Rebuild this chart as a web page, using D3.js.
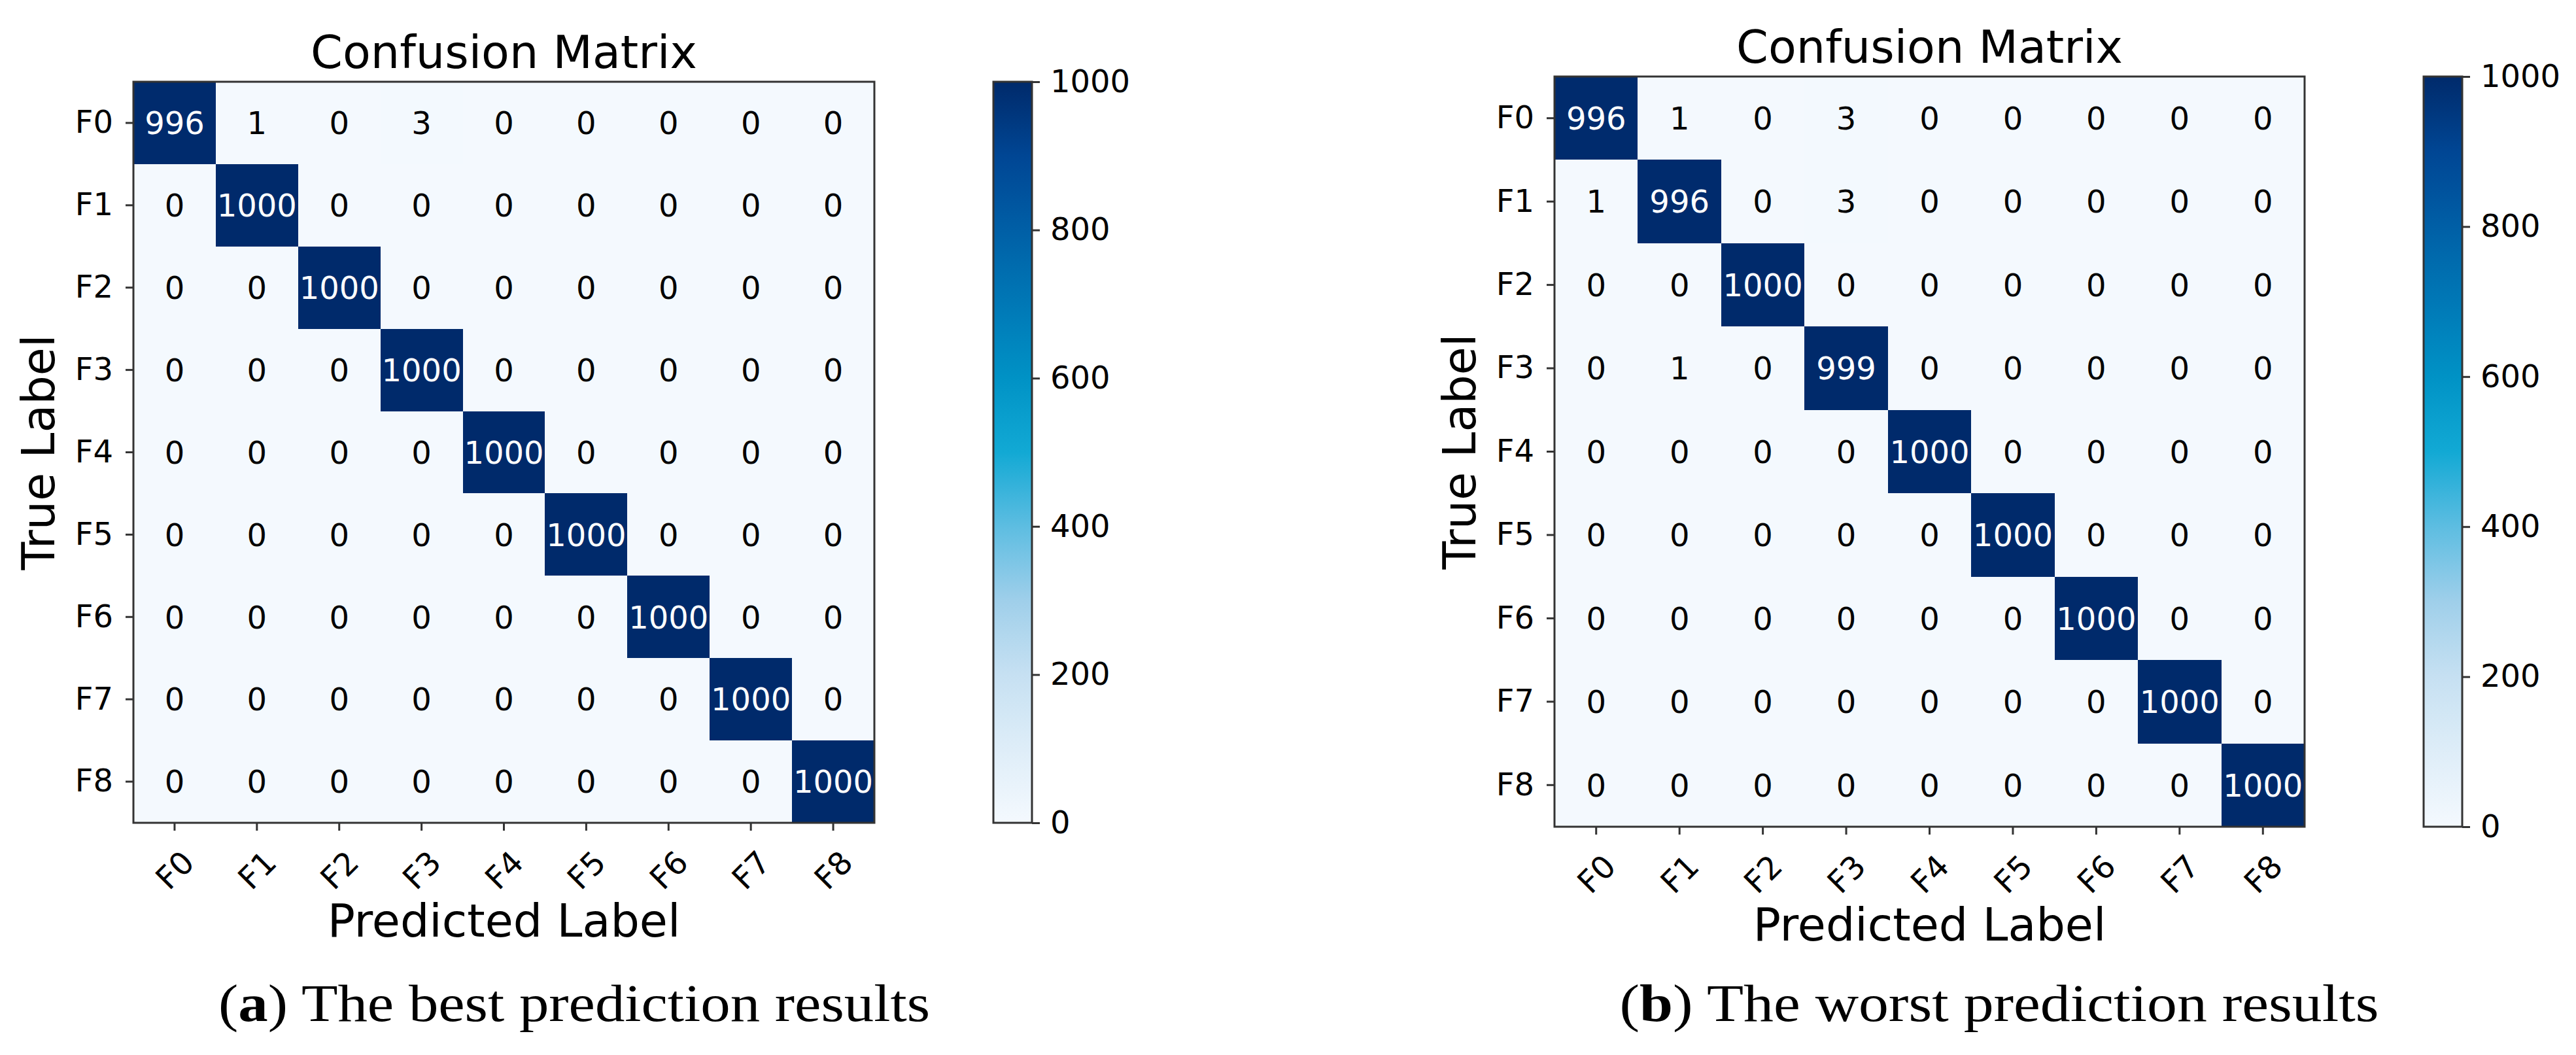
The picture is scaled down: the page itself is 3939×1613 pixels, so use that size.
<!DOCTYPE html>
<html>
<head>
<meta charset="utf-8">
<script src="https://cdn.jsdelivr.net/npm/d3@7"></script>
<style>
  body { margin: 0; background: #fff; }
  svg text { font-family: "DejaVu Sans", sans-serif; }
</style>
</head>
<body>
<div id="chart"></div>
<script>
// class names, shared by both matrices
const labels = ["F0", "F1", "F2", "F3", "F4", "F5", "F6", "F7", "F8"];

// rows = true label, columns = predicted label
const bestCounts = [
  [996, 1, 0, 3, 0, 0, 0, 0, 0],
  [0, 1000, 0, 0, 0, 0, 0, 0, 0],
  [0, 0, 1000, 0, 0, 0, 0, 0, 0],
  [0, 0, 0, 1000, 0, 0, 0, 0, 0],
  [0, 0, 0, 0, 1000, 0, 0, 0, 0],
  [0, 0, 0, 0, 0, 1000, 0, 0, 0],
  [0, 0, 0, 0, 0, 0, 1000, 0, 0],
  [0, 0, 0, 0, 0, 0, 0, 1000, 0],
  [0, 0, 0, 0, 0, 0, 0, 0, 1000]
];

const worstCounts = [
  [996, 1, 0, 3, 0, 0, 0, 0, 0],
  [1, 996, 0, 3, 0, 0, 0, 0, 0],
  [0, 0, 1000, 0, 0, 0, 0, 0, 0],
  [0, 1, 0, 999, 0, 0, 0, 0, 0],
  [0, 0, 0, 0, 1000, 0, 0, 0, 0],
  [0, 0, 0, 0, 0, 1000, 0, 0, 0],
  [0, 0, 0, 0, 0, 0, 1000, 0, 0],
  [0, 0, 0, 0, 0, 0, 0, 1000, 0],
  [0, 0, 0, 0, 0, 0, 0, 0, 1000]
];

const colorTicks = [0, 200, 400, 600, 800, 1000];
const panelTags = ["a", "b"];
const panelCaptions = [" The best prediction results", " The worst prediction results"];

// the picture's blues are a bit more saturated than plain Blues
const blueStops = [0, 100, 200, 300, 400, 500, 600, 700, 800, 900, 1000];
const blueColors = ["#f4f9fe", "#deedf8", "#c6e0f2", "#9fcfea", "#5dbde1", "#12a9d4",
  "#0092c5", "#0078b6", "#005fa6", "#004694", "#002a6b"];

var w = 3939,
  h = 1613;

var svg = d3.select("#chart")
  .append("svg")
  .attr("width", w)
  .attr("height", h);

var defs = svg.append("defs");

var color = d3.scaleLinear()
  .domain(blueStops)
  .range(blueColors)
  .interpolate(d3.interpolateRgb)
  .clamp(true);

// where each panel sits on the page
var layouts = [
  { left: 204, top: 125, size: 1133, capX: 878, capW: 1088 },
  { left: 2377, top: 117, size: 1147, capX: 3057, capW: 1161 }
];

var ink = "#333";

function styleAxis(ax) {
  ax.attr("font-family", "DejaVu Sans").attr("font-size", 48);
  ax.select(".domain").remove();
  ax.selectAll(".tick line").attr("stroke", ink).attr("stroke-width", 3);
  ax.selectAll(".tick text").attr("fill", "#000");
}

function drawPanel(counts, lay, i) {
  var g = svg.append("g");
  var bottom = lay.top + lay.size,
    right = lay.left + lay.size,
    midX = lay.left + lay.size / 2,
    midY = lay.top + lay.size / 2;

  var x = d3.scaleBand().domain(labels).range([lay.left, right]);
  var y = d3.scaleBand().domain(labels).range([lay.top, bottom]);

  var cells = counts.flatMap((row, r) => row.map((v, c) => ({
    truth: labels[r],
    pred: labels[c],
    v: v
  })));

  g.append("g")
    .selectAll("rect")
    .data(cells)
    .enter()
    .append("rect")
    .attr("x", d => x(d.pred))
    .attr("y", d => y(d.truth))
    .attr("width", x.bandwidth())
    .attr("height", y.bandwidth())
    .attr("fill", d => color(d.v))
    .attr("shape-rendering", "crispEdges");

  g.append("g")
    .selectAll("text")
    .data(cells)
    .enter()
    .append("text")
    .attr("x", d => x(d.pred) + x.bandwidth() / 2)
    .attr("y", d => y(d.truth) + y.bandwidth() / 2)
    .attr("dy", "0.36em")
    .attr("text-anchor", "middle")
    .attr("font-size", 48)
    .attr("fill", d => d.v > 500 ? "#fff" : "#000")
    .text(d => d.v);

  // frame
  g.append("rect")
    .attr("x", lay.left)
    .attr("y", lay.top)
    .attr("width", lay.size)
    .attr("height", lay.size)
    .attr("fill", "none")
    .attr("stroke", ink)
    .attr("stroke-width", 3);

  var yAx = g.append("g")
    .attr("transform", `translate(${lay.left},0)`)
    .call(d3.axisLeft(y).tickSize(12).tickPadding(19));
  styleAxis(yAx);

  var xAx = g.append("g")
    .attr("transform", `translate(0,${bottom})`)
    .call(d3.axisBottom(x).tickSize(12));
  styleAxis(xAx);
  xAx.selectAll(".tick text")
    .attr("y", 0)
    .attr("dy", "0.36em")
    .attr("text-anchor", "middle")
    .attr("transform", "translate(0,72) rotate(-45)");

  g.append("text")
    .attr("x", midX)
    .attr("y", lay.top - 21)
    .attr("text-anchor", "middle")
    .attr("font-size", 70)
    .text("Confusion Matrix");

  g.append("text")
    .attr("x", midX)
    .attr("y", bottom + 174)
    .attr("text-anchor", "middle")
    .attr("font-size", 70)
    .text("Predicted Label");

  g.append("text")
    .attr("transform", `translate(${lay.left - 121},${midY}) rotate(-90)`)
    .attr("text-anchor", "middle")
    .attr("font-size", 70)
    .text("True Label");

  // colorbar
  var cbX = right + 182,
    cbW = 59;
  var grad = defs.append("linearGradient")
    .attr("id", "blues" + i)
    .attr("x1", 0).attr("y1", 1)
    .attr("x2", 0).attr("y2", 0);
  grad.selectAll("stop")
    .data(d3.range(0, 1.0001, 0.05))
    .enter()
    .append("stop")
    .attr("offset", t => t)
    .attr("stop-color", t => color(t * 1000));

  g.append("rect")
    .attr("x", cbX)
    .attr("y", lay.top)
    .attr("width", cbW)
    .attr("height", lay.size)
    .attr("fill", `url(#blues${i})`)
    .attr("stroke", ink)
    .attr("stroke-width", 3);

  var cScale = d3.scaleLinear().domain([0, 1000]).range([bottom, lay.top]);
  var cAx = g.append("g")
    .attr("transform", `translate(${cbX + cbW},0)`)
    .call(d3.axisRight(cScale)
      .tickValues(colorTicks)
      .tickFormat(d3.format("d"))
      .tickSize(12)
      .tickPadding(16));
  styleAxis(cAx);

  // caption under the panel
  var cap = g.append("text")
    .attr("x", lay.capX)
    .attr("y", 1561)
    .attr("text-anchor", "middle")
    .attr("font-size", 80)
    .attr("textLength", lay.capW)
    .attr("lengthAdjust", "spacingAndGlyphs")
    .style("font-family", "'Liberation Serif', serif");
  cap.append("tspan").text("(");
  cap.append("tspan").attr("font-weight", "bold").text(panelTags[i]);
  cap.append("tspan").text(")" + panelCaptions[i]);
}

drawPanel(bestCounts, layouts[0], 0);
drawPanel(worstCounts, layouts[1], 1);
</script>
</body>
</html>
